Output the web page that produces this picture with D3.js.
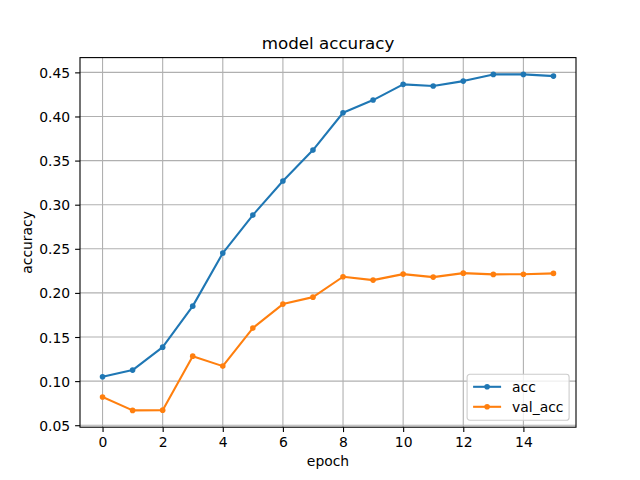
<!DOCTYPE html>
<html>
<head>
<meta charset="utf-8">
<script src="https://cdn.jsdelivr.net/npm/d3@7"></script>
<style>
  body { margin: 0; background: #fff; }
  text { font-family: "DejaVu Sans", sans-serif; fill: #000; }
</style>
</head>
<body>
<div id="chart"></div>
<script>
// values
const epochs = d3.range(0, 16);
const acc = [0.1049, 0.1125, 0.1385, 0.1850, 0.2451, 0.2882, 0.3268, 0.3619,
             0.4042, 0.4186, 0.4364, 0.4345, 0.4401, 0.4477, 0.4477, 0.4458];
const valAcc = [0.0820, 0.0668, 0.0671, 0.1283, 0.1170, 0.1601, 0.1873, 0.1952,
                0.2183, 0.2145, 0.2213, 0.2179, 0.2224, 0.2210, 0.2212, 0.2221];
const xTicks = [0, 2, 4, 6, 8, 10, 12, 14];
const yTicks = [0.05, 0.10, 0.15, 0.20, 0.25, 0.30, 0.35, 0.40, 0.45];
const seriesNames = ['acc', 'val_acc'];
const seriesColors = ['#1f77b4', '#ff7f0e'];

function drawChart() {
    let width = 640,
        height = 480,
        margin = {top: 57.6, right: 64, bottom: 52.8, left: 80},
        plotWidth = width - margin.left - margin.right,
        plotHeight = height - margin.top - margin.bottom,
        svg = d3.select('#chart').append('svg')
                .attr('width', width).attr('height', height),
        plot = svg.append('g')
                  .attr('transform', `translate(${margin.left}, ${margin.top})`);

    // matplotlib style 5% margins
    let xExt = d3.extent(epochs),
        xPad = (xExt[1] - xExt[0]) * 0.05,
        allY = acc.concat(valAcc),
        yExt = d3.extent(allY),
        yPad = (yExt[1] - yExt[0]) * 0.05;

    let xScale = d3.scaleLinear().domain([xExt[0] - xPad, xExt[1] + xPad]).range([0, plotWidth]),
        yScale = d3.scaleLinear().domain([yExt[0] - yPad, yExt[1] + yPad]).range([plotHeight, 0]);

    // grid
    plot.append('g').selectAll('line')
        .data(xTicks).enter().append('line')
        .attr('x1', d => xScale(d)).attr('x2', d => xScale(d))
        .attr('y1', 0).attr('y2', plotHeight)
        .attr('stroke', '#b0b0b0').attr('stroke-width', 1.1);
    plot.append('g').selectAll('line')
        .data(yTicks).enter().append('line')
        .attr('y1', d => yScale(d)).attr('y2', d => yScale(d))
        .attr('x1', 0).attr('x2', plotWidth)
        .attr('stroke', '#b0b0b0').attr('stroke-width', 1.1);

    // axes
    let xAxis = d3.axisBottom(xScale).tickValues(xTicks).tickSize(4.9).tickPadding(4.9)
                  .tickFormat(d3.format('d'));
    let yAxis = d3.axisLeft(yScale).tickValues(yTicks).tickSize(4.9).tickPadding(4.9)
                  .tickFormat(d3.format('.2f'));
    let xg = plot.append('g').attr('transform', `translate(0, ${plotHeight})`).call(xAxis);
    let yg = plot.append('g').call(yAxis);
    [xg, yg].forEach(g => {
        g.select('.domain').remove();
        g.selectAll('.tick line').attr('stroke', '#000').attr('stroke-width', 1.1);
        g.selectAll('.tick text').attr('font-size', 13.9)
         .attr('font-family', '"DejaVu Sans", sans-serif').attr('fill', '#000');
    });
    xg.selectAll('.tick text').attr('dy', '0.75em');
    yg.selectAll('.tick text').attr('dy', '0.36em');

    // lines
    let line = d3.line().x((d, i) => xScale(epochs[i])).y(d => yScale(d));
    [acc, valAcc].forEach((series, k) => {
        plot.append('path')
            .datum(series)
            .attr('d', line)
            .attr('fill', 'none')
            .attr('stroke', seriesColors[k])
            .attr('stroke-width', 2.08)
            .attr('stroke-linejoin', 'round')
            .attr('stroke-linecap', 'square');
        plot.append('g').selectAll('circle')
            .data(series).enter().append('circle')
            .attr('cx', (d, i) => xScale(epochs[i]))
            .attr('cy', d => yScale(d))
            .attr('r', 2.8)
            .attr('fill', seriesColors[k]);
    });

    // frame
    plot.append('rect')
        .attr('width', plotWidth).attr('height', plotHeight)
        .attr('fill', 'none').attr('stroke', '#000').attr('stroke-width', 1.1);

    // title & axis labels
    svg.append('text')
       .attr('x', margin.left + plotWidth / 2).attr('y', 48.5)
       .attr('text-anchor', 'middle').attr('font-size', 16.7)
       .text('model accuracy');
    svg.append('text')
       .attr('x', margin.left + plotWidth / 2).attr('y', 466)
       .attr('text-anchor', 'middle').attr('font-size', 13.9)
       .text('epoch');
    svg.append('text')
       .attr('transform', `translate(32, ${margin.top + plotHeight / 2}) rotate(-90)`)
       .attr('text-anchor', 'middle').attr('font-size', 13.9)
       .text('accuracy');

    // legend, lower right
    let legW = 102, legH = 46,
        legX = plotWidth - 6.9 - legW,
        legY = plotHeight - 6.9 - legH,
        legend = plot.append('g').attr('transform', `translate(${legX}, ${legY})`);
    legend.append('rect')
          .attr('width', legW).attr('height', legH)
          .attr('rx', 2.8)
          .attr('fill', '#fff').attr('fill-opacity', 0.8)
          .attr('stroke', '#cccccc').attr('stroke-width', 1.1);
    seriesNames.forEach((name, k) => {
        let cy = 12.5 + k * 20;
        legend.append('line')
              .attr('x1', 6).attr('x2', 34)
              .attr('y1', cy).attr('y2', cy)
              .attr('stroke', seriesColors[k]).attr('stroke-width', 2.08);
        legend.append('circle')
              .attr('cx', 20).attr('cy', cy).attr('r', 2.8)
              .attr('fill', seriesColors[k]);
        legend.append('text')
              .attr('x', 45).attr('y', cy).attr('dy', '0.36em')
              .attr('font-size', 13.9)
              .text(name);
    });
}

drawChart();
</script>
</body>
</html>
